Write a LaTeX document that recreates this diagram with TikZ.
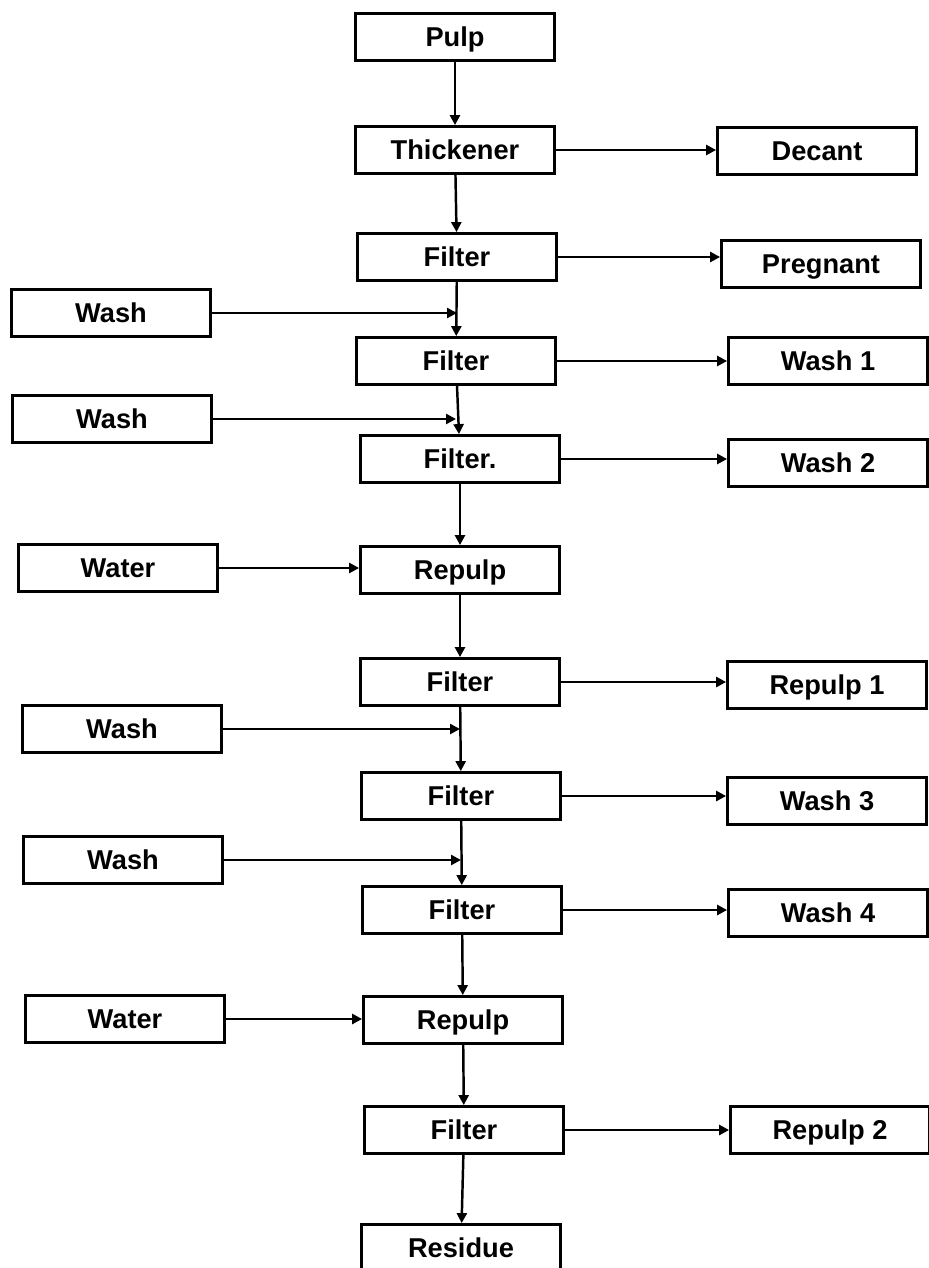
\documentclass[tikz,border=0pt]{standalone}
\usepackage{fontspec}
\setmainfont{Liberation Sans}
\usetikzlibrary{arrows.meta}
\tikzset{
  box/.style={draw, line width=1.6pt, minimum width=3.98cm, minimum height=0.94cm,
              inner sep=0pt, text height=11.1pt, text depth=0pt,
              font=\fontsize{15.5}{18}\selectfont\bfseries},
  flow/.style={line width=1.4pt, -{Triangle[length=0.2cm,width=0.2cm]}}
}
\begin{document}
\begin{tikzpicture}[x=0.02cm,y=-0.02cm]
                          \useasboundingbox (0,0) rectangle (929,1268);
                          \node[box] (pulp) at (455,37) {Pulp};
                          \node[box] (thickener) at (455,150) {Thickener};
                          \node[box] (decant) at (817,151) {Decant};
                          \node[box] (filter1) at (457,257) {Filter};
                          \node[box] (pregnant) at (821,264) {Pregnant};
                          \node[box] (washin1) at (111,313) {Wash};
                          \node[box] (filter2) at (456,361) {Filter};
                          \node[box] (wash1) at (828,361) {Wash 1};
                          \node[box] (washin2) at (112,419) {Wash};
                          \node[box] (filter3) at (460,459) {Filter.};
                          \node[box] (wash2) at (828,463) {Wash 2};
                          \node[box] (waterin1) at (118,568) {Water};
                          \node[box] (repulp1) at (460,570) {Repulp};
                          \node[box] (filter4) at (460,682) {Filter};
                          \node[box] (repulpout1) at (827,685) {Repulp 1};
                          \node[box] (washin3) at (122,729) {Wash};
                          \node[box] (filter5) at (461,796) {Filter};
                          \node[box] (wash3) at (827,801) {Wash 3};
                          \node[box] (washin4) at (123,860) {Wash};
                          \node[box] (filter6) at (462,910) {Filter};
                          \node[box] (wash4) at (828,913) {Wash 4};
                          \node[box] (waterin2) at (125,1019) {Water};
                          \node[box] (repulp2) at (463,1020) {Repulp};
                          \node[box] (filter7) at (464,1130) {Filter};
                          \node[box] (repulpout2) at (830,1130) {Repulp 2};
                          \node[box] (residue) at (461,1248) {Residue};
                          % main line
                          \draw[flow] (pulp) -- (thickener);
                          \draw[flow] (thickener) -- (filter1);
                          \draw[flow] (filter1) -- (filter2);
                          \draw[flow] (filter2) -- (filter3);
                          \draw[flow] (filter3) -- (repulp1);
                          \draw[flow] (repulp1) -- (filter4);
                          \draw[flow] (filter4) -- (filter5);
                          \draw[flow] (filter5) -- (filter6);
                          \draw[flow] (filter6) -- (repulp2);
                          \draw[flow] (repulp2) -- (filter7);
                          \draw[flow] (filter7) -- (residue);
                          % liquors out
                          \draw[flow] (thickener.east) -- (thickener.east -| decant.west);
                          \draw[flow] (filter1.east) -- (filter1.east -| pregnant.west);
                          \draw[flow] (filter2.east) -- (filter2.east -| wash1.west);
                          \draw[flow] (filter3.east) -- (filter3.east -| wash2.west);
                          \draw[flow] (filter4.east) -- (filter4.east -| repulpout1.west);
                          \draw[flow] (filter5.east) -- (filter5.east -| wash3.west);
                          \draw[flow] (filter6.east) -- (filter6.east -| wash4.west);
                          \draw[flow] (filter7.east) -- (filter7.east -| repulpout2.west);
                          % wash and water in
                          \draw[flow] (washin1.east) -- (washin1.east -| filter1.south);
                          \draw[flow] (washin2.east) -- (washin2.east -| filter2.south);
                          \draw[flow] (washin3.east) -- (washin3.east -| filter4.south);
                          \draw[flow] (washin4.east) -- (washin4.east -| filter5.south);
                          \draw[flow] (waterin1.east) -- (waterin1.east -| repulp1.west);
                          \draw[flow] (waterin2.east) -- (waterin2.east -| repulp2.west);
                    \end{tikzpicture}
\end{document}
